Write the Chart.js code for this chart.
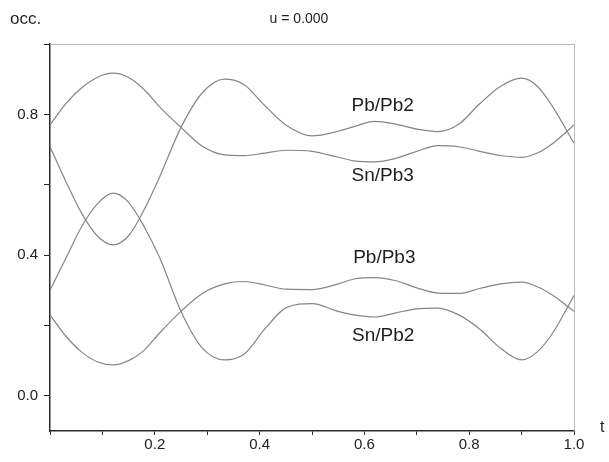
<!DOCTYPE html>
<html>
<head>
<meta charset="utf-8">
<script src="https://cdn.jsdelivr.net/npm/chart.js@4"></script>
<style>
  html, body { margin: 0; padding: 0; background: #fff; }
  #wrap { width: 609px; height: 462px; }
</style>
</head>
<body>
<div id="wrap"><canvas id="chart" width="609" height="462"></canvas></div>
<script>
const tValues = [0, 0.03, 0.06, 0.09, 0.12, 0.15, 0.18, 0.21, 0.25, 0.29, 0.333, 0.37, 0.41, 0.45,
                 0.50, 0.55, 0.58, 0.62, 0.66, 0.70, 0.74, 0.78, 0.82, 0.86, 0.90, 0.93, 0.96, 1.0];

const pbPb2 = [0.708, 0.61, 0.52, 0.455, 0.429, 0.455, 0.53, 0.625, 0.763, 0.86, 0.90, 0.885, 0.825, 0.77,
               0.739, 0.752, 0.765, 0.78, 0.772, 0.758, 0.751, 0.772, 0.83, 0.88, 0.903, 0.88, 0.82, 0.718];
const snPb3 = [0.77, 0.83, 0.875, 0.905, 0.917, 0.905, 0.87, 0.82, 0.763, 0.71, 0.685, 0.683, 0.69, 0.698,
               0.695, 0.678, 0.668, 0.665, 0.675, 0.695, 0.711, 0.708, 0.695, 0.683, 0.678, 0.69, 0.718, 0.77];
const pbPb3 = [0.23, 0.17, 0.125, 0.097, 0.088, 0.10, 0.13, 0.18, 0.24, 0.29, 0.318, 0.325, 0.315, 0.303,
               0.302, 0.318, 0.332, 0.336, 0.327, 0.307, 0.292, 0.291, 0.305, 0.318, 0.323, 0.31, 0.285, 0.24];
const snPb2 = [0.30, 0.39, 0.48, 0.545, 0.576, 0.55, 0.48, 0.39, 0.24, 0.137, 0.102, 0.118, 0.19, 0.25,
               0.262, 0.24, 0.23, 0.224, 0.236, 0.247, 0.249, 0.23, 0.19, 0.135, 0.102, 0.125, 0.18, 0.285];

const seriesNames = ['Pb/Pb2', 'Sn/Pb3', 'Pb/Pb3', 'Sn/Pb2'];
const xTicks = [0, 0.1, 0.2, 0.3, 0.4, 0.5, 0.6, 0.7, 0.8, 0.9, 1.0];
const yTicks = [0, 0.2, 0.4, 0.6, 0.8, 1.0];

const FONT = 'Liberation Sans, Arial, sans-serif';
const LINE_COLOR = '#858585';
const AXIS_COLOR = '#2a2a2a';

function toPoints(ys) {
    return tValues.map((t, i) => ({ x: t, y: ys[i] }));
}

const datasets = [pbPb2, snPb3, pbPb3, snPb2].map((ys, i) => ({
    label: seriesNames[i],
    data: toPoints(ys),
    borderColor: LINE_COLOR,
    borderWidth: 1.2,
    pointRadius: 0,
    fill: false,
    cubicInterpolationMode: 'monotone'
}));

// curve labels, placed in data coordinates
const curveLabels = [
    { text: 'Pb/Pb2', t: 0.635, v: 0.825 },
    { text: 'Sn/Pb3', t: 0.635, v: 0.625 },
    { text: 'Pb/Pb3', t: 0.638, v: 0.392 },
    { text: 'Sn/Pb2', t: 0.636, v: 0.170 }
];

const decorPlugin = {
    id: 'decor',
    afterDraw(chart) {
        const ctx = chart.ctx;
        const area = chart.chartArea;
        const xs = chart.scales.x, ys = chart.scales.y;
        ctx.save();
        // thin frame on top and right
        ctx.strokeStyle = '#b8b8b8';
        ctx.lineWidth = 1;
        ctx.beginPath();
        ctx.moveTo(area.left, area.top + 0.5);
        ctx.lineTo(area.right + 0.5, area.top + 0.5);
        ctx.lineTo(area.right + 0.5, area.bottom);
        ctx.stroke();

        ctx.fillStyle = '#1e1e1e';
        ctx.textBaseline = 'middle';
        ctx.textAlign = 'center';
        ctx.font = '19px ' + FONT;
        curveLabels.forEach(l => {
            ctx.fillText(l.text, xs.getPixelForValue(l.t), ys.getPixelForValue(l.v));
        });

        ctx.font = '17px ' + FONT;
        ctx.textAlign = 'left';
        ctx.fillText('occ.', 10, 19);
        ctx.font = '14px ' + FONT;
        ctx.textAlign = 'center';
        ctx.fillText('u = 0.000', 299, 19);
        ctx.font = '16px ' + FONT;
        ctx.textAlign = 'left';
        ctx.fillText('t', 600, area.bottom - 3);
        ctx.restore();
    }
};

const ctx = document.getElementById('chart').getContext('2d');
new Chart(ctx, {
    type: 'line',
    data: { datasets: datasets },
    options: {
        responsive: false,
        animation: false,
        events: [],
        layout: { padding: { left: 0, right: 35, top: 44, bottom: 0 } },
        plugins: {
            legend: { display: false },
            tooltip: { enabled: false }
        },
        scales: {
            x: {
                type: 'linear',
                min: 0,
                max: 1,
                afterBuildTicks: s => { s.ticks = xTicks.map(v => ({ value: v })); },
                afterFit: s => { s.height = 31; },
                grid: {
                    drawOnChartArea: false,
                    drawTicks: true,
                    tickLength: 4,
                    color: AXIS_COLOR,
                    lineWidth: 1
                },
                border: { display: true, color: AXIS_COLOR, width: 1.5 },
                ticks: {
                    autoSkip: false,
                    maxRotation: 0,
                    padding: 1,
                    color: '#222',
                    font: { family: FONT, size: 15 },
                    callback: v => {
                        const k = Math.round(v * 10);
                        return (k > 0 && k % 2 === 0) ? (k / 10).toFixed(1) : '';
                    }
                }
            },
            y: {
                type: 'linear',
                min: -0.1,
                max: 1.0,
                afterBuildTicks: s => { s.ticks = yTicks.map(v => ({ value: v })); },
                afterFit: s => { s.width = 50; },
                grid: {
                    drawOnChartArea: false,
                    drawTicks: true,
                    tickLength: 6,
                    color: AXIS_COLOR,
                    lineWidth: 1
                },
                border: { display: true, color: AXIS_COLOR, width: 1.5 },
                ticks: {
                    padding: 6,
                    color: '#222',
                    font: { family: FONT, size: 15 },
                    callback: v => {
                        const k = Math.round(v * 10);
                        return (k % 4 === 0) ? (k / 10).toFixed(1) : '';
                    }
                }
            }
        }
    },
    plugins: [decorPlugin]
});
</script>
</body>
</html>
